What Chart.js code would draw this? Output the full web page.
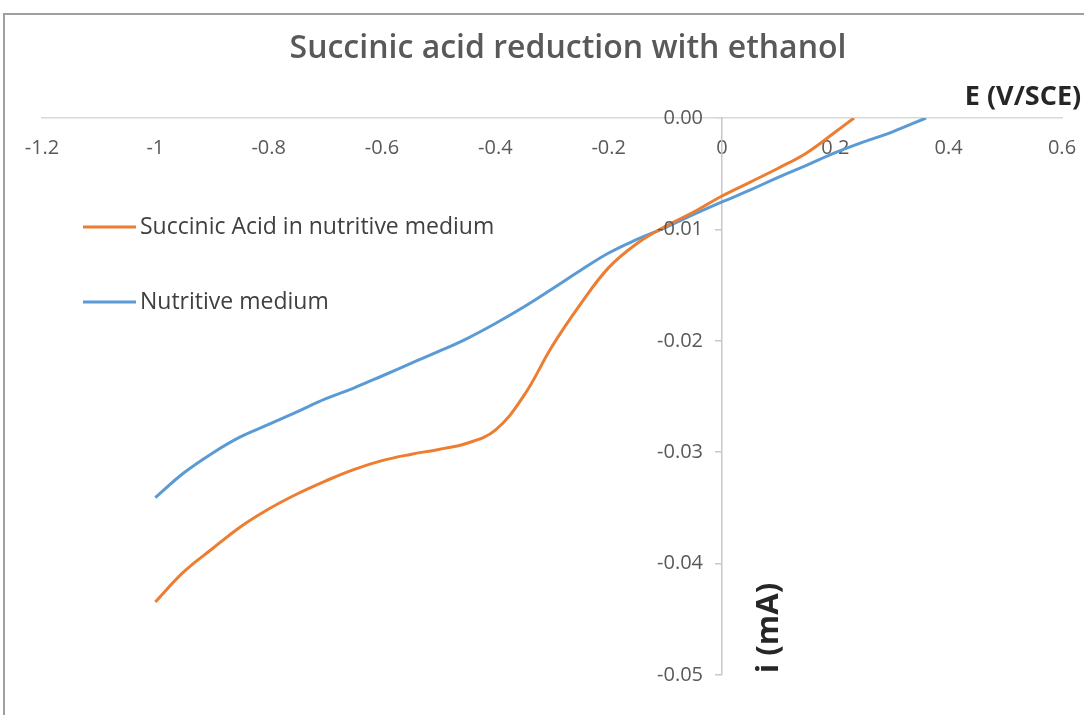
<!DOCTYPE html>
<html>
<head>
<meta charset="utf-8">
<script src="https://cdn.jsdelivr.net/npm/chart.js@4/dist/chart.umd.min.js"></script>
<style>
  body { margin: 0; background: #fff; }
  #wrap { width: 1084px; height: 715px; }
</style>
</head>
<body>
<div id="wrap"><canvas id="chart"></canvas></div>
<script>
// potential E (V/SCE) and current i (mA)
const eAcid = [-1, -0.95, -0.9, -0.85, -0.8, -0.75, -0.7, -0.65, -0.6, -0.55, -0.5, -0.45, -0.4,
    -0.35, -0.3, -0.25, -0.2, -0.15, -0.1, -0.05, 0, 0.05, 0.1, 0.15, 0.2, 0.233];
const iAcid = [-0.04345, -0.04075, -0.03869, -0.03671, -0.03510, -0.03375, -0.03259, -0.03156,
    -0.03076, -0.03020, -0.02975, -0.02920, -0.02801, -0.02495, -0.02051, -0.01673, -0.01343,
    -0.01126, -0.00973, -0.00844, -0.00700, -0.00575, -0.00449, -0.00311, -0.00126, 0];

const eMedium = [-1, -0.95, -0.9, -0.85, -0.8, -0.75, -0.7, -0.65, -0.6, -0.55, -0.5, -0.45, -0.4,
    -0.35, -0.3, -0.25, -0.2, -0.15, -0.1, -0.05, 0, 0.05, 0.1, 0.15, 0.2, 0.25, 0.3, 0.36];
const iMedium = [-0.03407, -0.03187, -0.03011, -0.02863, -0.02751, -0.02637, -0.02522, -0.02424,
    -0.02316, -0.02205, -0.02096, -0.01980, -0.01845, -0.01697, -0.01535, -0.01369, -0.01212,
    -0.01090, -0.00983, -0.00866, -0.00754, -0.00646, -0.00530, -0.00422, -0.00311, -0.00215,
    -0.00126, 0];

const seriesNames = ["Succinic Acid in nutritive medium", "Nutritive medium"];
const seriesColors = ["#ED7D31", "#5B9BD5"];

const chartTitle = "Succinic acid reduction with ethanol";
const xTitle = "E (V/SCE)";
const yTitle = "i (mA)";

const FONT = "'Open Sans', sans-serif";

function toPoints(xs, ys) {
    return xs.map((x, k) => ({ x: x, y: ys[k] }));
}

// title, legend, axis titles and y tick labels
const decorations = {
    id: "decorations",
    afterDraw(chart) {
        const ctx = chart.ctx;
        ctx.save();

        // chart frame
        ctx.strokeStyle = "#a0a0a0";
        ctx.lineWidth = 2;
        ctx.beginPath();
        ctx.moveTo(4, 720);
        ctx.lineTo(4, 14);
        ctx.lineTo(1090, 14);
        ctx.stroke();

        ctx.fillStyle = "#595959";
        ctx.font = "600 32px " + FONT;
        ctx.textAlign = "center";
        ctx.textBaseline = "middle";
        ctx.fillText(chartTitle, 568, 49);

        // y tick labels, left of the axis line
        const ys = chart.scales.y;
        const xAxisPix = chart.scales.x.getPixelForValue(0);
        ctx.font = "20px " + FONT;
        ctx.textAlign = "right";
        ys.ticks.forEach(t => {
            let v = Math.abs(t.value) < 1e-9 ? 0 : t.value;
            ctx.fillText(v.toFixed(2), xAxisPix - 19, ys.getPixelForValue(t.value));
        });

        // legend
        const legendY = [227, 302];
        ctx.textAlign = "left";
        ctx.font = "23px " + FONT;
        seriesNames.forEach((name, k) => {
            ctx.strokeStyle = seriesColors[k];
            ctx.lineWidth = 3;
            ctx.beginPath();
            ctx.moveTo(83, legendY[k]);
            ctx.lineTo(136, legendY[k]);
            ctx.stroke();
            ctx.fillStyle = "#404040";
            ctx.fillText(name, 140, legendY[k]);
        });

        // axis titles
        ctx.fillStyle = "#262626";
        ctx.font = "bold 27px " + FONT;
        ctx.textAlign = "center";
        ctx.fillText(xTitle, 1023, 97);

        ctx.translate(769, 628);
        ctx.rotate(-Math.PI / 2);
        ctx.font = "bold 31px " + FONT;
        ctx.fillText(yTitle, 0, 0);

        ctx.restore();
    }
};

new Chart(document.getElementById("chart"), {
    type: "line",
    data: {
        datasets: [
            {
                label: seriesNames[0],
                data: toPoints(eAcid, iAcid),
                borderColor: seriesColors[0],
                backgroundColor: seriesColors[0],
                borderWidth: 3,
                pointRadius: 0,
                tension: 0.4
            },
            {
                label: seriesNames[1],
                data: toPoints(eMedium, iMedium),
                borderColor: seriesColors[1],
                backgroundColor: seriesColors[1],
                borderWidth: 3,
                pointRadius: 0,
                tension: 0.4
            }
        ]
    },
    options: {
        responsive: true,
        maintainAspectRatio: false,
        animation: false,
        layout: { padding: { left: 42, right: 22, top: 118, bottom: 40 } },
        plugins: {
            legend: { display: false },
            title: { display: false },
            tooltip: { enabled: false }
        },
        scales: {
            x: {
                type: "linear",
                position: { y: 0 },
                min: -1.2,
                max: 0.6,
                afterFit: s => { s.height = 0; s.paddingLeft = 0; s.paddingRight = 0; },
                grid: { display: false, drawTicks: false },
                border: { display: true, color: "#d9d9d9", width: 1.5 },
                ticks: {
                    stepSize: 0.2,
                    maxRotation: 0,
                    padding: 18,
                    color: "#595959",
                    font: { family: FONT, size: 20 },
                    callback: v => String(+v.toFixed(1))
                }
            },
            y: {
                type: "linear",
                position: { x: 0 },
                min: -0.05,
                max: 0,
                afterFit: s => { s.width = 0; s.paddingTop = 0; s.paddingBottom = 0; },
                grid: { display: true, drawOnChartArea: false, drawTicks: true, tickLength: 6, color: "#c8c8c8", lineWidth: 1.5 },
                border: { display: true, color: "#c8c8c8", width: 1.5 },
                ticks: {
                    stepSize: 0.01,
                    display: false
                }
            }
        }
    },
    plugins: [decorations]
});
</script>
</body>
</html>
